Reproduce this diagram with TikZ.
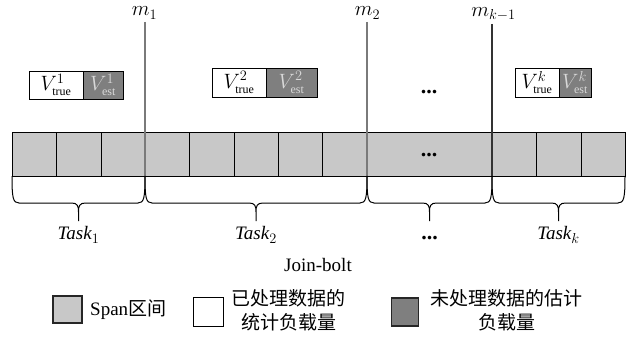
\documentclass[tikz,border=0pt]{standalone}
\usepackage{fontspec}
\setmainfont{Liberation Serif}
\newfontfamily\cjk{Noto Sans CJK SC}
\definecolor{cellgray}{HTML}{C8C8C8}
\definecolor{estgray}{HTML}{7F7F7F}
\definecolor{linegray}{HTML}{7A7A7A}
\newcommand\tbrace[3]{%
  \pgfmathsetmacro\xm{(#1+#2)/2}%
  \coordinate (#3) at (\xm,221);
  \draw[bracestyle] (#1,176) .. controls (#1,198) and (#1+1,203) .. (#1+7,203) -- (\xm-7,203)
     .. controls (\xm-1,203) and (\xm,206) .. (\xm,212) -- (#3)
     (\xm,212) .. controls (\xm,206) and (\xm+1,203) .. (\xm+7,203) -- (#2-7,203)
     .. controls (#2-1,203) and (#2,198) .. (#2,176);
}
\newcommand\vsub[1]{_{\scriptscriptstyle\mathrm{#1}}}
\begin{document}
\begin{tikzpicture}[x=1pt,y=-1pt,
  txt/.style={font=\fontsize{19}{22}\selectfont,inner sep=0pt},
  mtxt/.style={font=\fontsize{20.74}{22}\selectfont,inner sep=0pt},
  cjktxt/.style={font=\cjk\fontsize{19}{22}\selectfont,inner sep=0pt},
  cellbox/.style={draw=black,line width=1pt,fill=cellgray,inner sep=0pt,outer sep=0pt,minimum height=44},
  vtrue/.style={draw=black,line width=0.9pt,fill=white,inner sep=0pt,outer sep=0pt,font=\fontsize{20.74}{22}\selectfont},
  vest/.style={draw=black,line width=0.9pt,fill=estgray,text=black!15,inner sep=0pt,outer sep=0pt,font=\fontsize{20.74}{22}\selectfont},
  mline/.style={line width=1.3pt},
  bracestyle/.style={draw=black,line width=1pt},
  dotstxt/.style={font=\fontsize{22}{22}\bfseries\selectfont,inner sep=0pt},
  legbox/.style={line width=1.4pt,draw=black!85,inner sep=0pt,outer sep=0pt},
]
\useasboundingbox (0,0) rectangle (627,337);

% span bar cells
\foreach \a/\b [count=\i] in {12/56.5,56.5/101,101/145,145/189.5,189.5/234,234/278,278/322.5,322.5/367,367/492,492/536.5,536.5/581,581/625}{
  \pgfmathsetmacro\w{\b-\a}
  \pgfmathsetmacro\cx{(\a+\b)/2}
  \node[cellbox,minimum width=\w pt] (c\i) at (\cx,154) {};
}
\node[dotstxt,anchor=base] (bardots) at (429,157) {...};

% m lines
\node[mtxt] (m1) at (144.5,13) {$m_1$};
\node[mtxt] (m2) at (367.5,13) {$m_2$};
\node[mtxt] (mk) at (493.5,14) {$m_{k-1}$};
\coordinate (m1top) at (145,22);
\coordinate (m2top) at (367,22);
\coordinate (mktop) at (492,24);
\draw[mline,draw=linegray] (m1top) -- (m1top |- c4.south);
\draw[mline,draw=linegray] (m2top) -- (m2top |- c9.south);
\draw[mline,draw=black!80,line width=1.1pt] (mktop) -- (mktop |- c10.south);

% V boxes
\node[vtrue,minimum width=54,minimum height=28,anchor=east] (t1) at (83,85) {$V^1\vsub{true}$};
\node[vest,minimum width=40,minimum height=28,anchor=west] (e1) at (83,85) {$V^1\vsub{est}$};
\node[vtrue,minimum width=54,minimum height=29,anchor=east] (t2) at (266,82.5) {$V^2\vsub{true}$};
\node[vest,minimum width=51,minimum height=29,anchor=west] (e2) at (266,82.5) {$V^2\vsub{est}$};
\node[dotstxt,anchor=base] (topdots) at (429,93) {...};
\node[vtrue,minimum width=44,minimum height=29,anchor=east] (tk) at (559,82.5) {$V^k\vsub{true}$};
\node[vest,minimum width=32,minimum height=29,anchor=west] (ek) at (559,82.5) {$V^k\vsub{est}$};

% braces
\tbrace{12}{145}{tip1}
\tbrace{145}{367}{tip2}
\tbrace{367}{492}{tip3}
\tbrace{492}{625}{tipk}
\node[txt] (task1) at (tip1 |- 0,235) {$\textit{Task}_1$};
\node[txt] (task2) at (tip2 |- 0,235) {$\textit{Task}_2$};
\node[dotstxt,anchor=base] (bdots) at (tip3 |- 0,239) {...};
\node[txt] (taskk) at (tipk |- 0,235) {$\textit{Task}_k$};

\node[txt] (join) at (318,265) {Join-bolt};

% legend
\node[legbox,fill=cellgray,minimum width=29,minimum height=27] (lg1) at (67.5,309.5) {};
\node[txt,anchor=west] (lt1) at (90,310) {Span{\cjk 区间}};
\node[legbox,draw=black,line width=0.9pt,fill=white,minimum width=30,minimum height=29] (lg2) at (208,312) {};
\node[cjktxt] (lt2a) at (288,298) {已处理数据的};
\node[cjktxt] (lt2b) at (289,322) {统计负载量};
\node[legbox,fill=estgray,minimum width=27,minimum height=28] (lg3) at (405,312) {};
\node[cjktxt] (lt3a) at (506,298) {未处理数据的估计};
\node[cjktxt] (lt3b) at (507,322) {负载量};
\end{tikzpicture}
\end{document}
